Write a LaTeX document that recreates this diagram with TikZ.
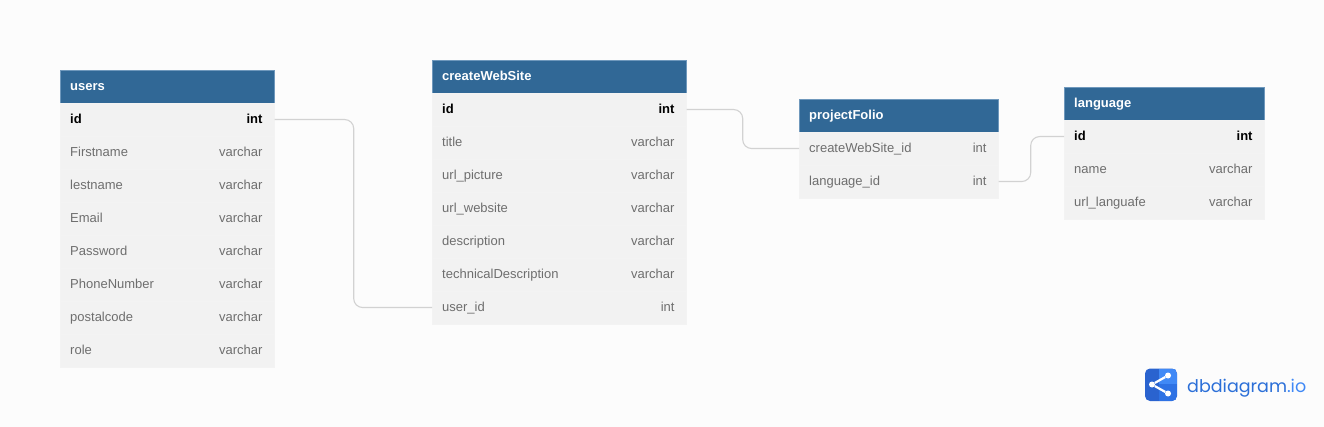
\documentclass[tikz,border=0pt]{standalone}
\usepackage{xcolor}
\usepackage{fontspec}
\setmainfont{Liberation Sans}
\newfontfamily\logofont{Poppins}
\definecolor{pagebg}{HTML}{FCFCFC}
\definecolor{headblue}{HTML}{316896}
\definecolor{headedge}{HTML}{6F98BC}
\definecolor{rowgrey}{HTML}{F2F2F2}
\definecolor{rowedge}{HTML}{F3F3F3}
\definecolor{fieldgrey}{HTML}{6E6E6E}
\definecolor{linkgrey}{HTML}{D2D2D2}
\definecolor{logodark}{HTML}{2A63CF}
\definecolor{logomid}{HTML}{2E72E4}
\definecolor{logolight}{HTML}{4089F6}
\definecolor{logotext}{HTML}{2B6FD8}
\tikzset{
	tablehead/.style={draw=headedge, line width=0.5pt, fill=headblue, anchor=north west, minimum height=33, inner sep=0},
	headtext/.style={anchor=west, text=white, font=\fontsize{13}{15}\selectfont\bfseries, text height=9.5pt, text depth=3pt, inner sep=0},
	rowbox/.style={fill=rowgrey, draw=rowedge, line width=0.5pt, anchor=north west, minimum height=32.6, inner sep=0},
	keytext/.style={text=black, font=\fontsize{13}{15}\selectfont\bfseries, text height=9.5pt, text depth=3pt, inner sep=0},
	fieldtext/.style={text=fieldgrey, font=\fontsize{13}{15}\selectfont, text height=9.5pt, text depth=3pt, inner sep=0},
	link/.style={draw=linkgrey, line width=1.1pt, rounded corners=9pt},
	logodot/.style={circle, fill=white, minimum size=6, inner sep=0},
	logobar/.style={draw=white, line width=2.2pt},
}
% #1 name, #2 x, #3 y, #4 width, #5 title, #6 rows
\newcommand{\dbtable}[6]{
	\node[tablehead, minimum width=#4-0.8] (#1) at (#2,#3) {};
	\node[headtext] (#1-title) at ([xshift=10,yshift=-0.7]#1.west) {#5};
	\foreach \fieldname/\fieldtype/\fieldstyle [count=\i] in {#6} {
		\node[rowbox, minimum width=#4-0.8] (#1-\i) at (#2,{#3+33*\i}) {};
		\node[\fieldstyle, anchor=west] (#1-\i-name) at ([xshift=10,yshift=-1]#1-\i.west) {\fieldname};
		\node[\fieldstyle, anchor=east] (#1-\i-type) at ([xshift=-12,yshift=-1]#1-\i.east) {\fieldtype};
	}
}
\begin{document}
\begin{tikzpicture}[x=1pt, y=-1pt]
	\useasboundingbox[fill=pagebg] (0,0) rectangle (1324,427);

	\dbtable{users}{60}{70}{215}{users}{
		id/int/keytext, Firstname/varchar/fieldtext, lestname/varchar/fieldtext,
		Email/varchar/fieldtext, Password/varchar/fieldtext, PhoneNumber/varchar/fieldtext,
		postalcode/varchar/fieldtext, role/varchar/fieldtext}
	\dbtable{site}{432}{60}{255}{createWebSite}{
		id/int/keytext, title/varchar/fieldtext, url\_picture/varchar/fieldtext,
		url\_website/varchar/fieldtext, description/varchar/fieldtext,
		technicalDescription/varchar/fieldtext, user\_id/int/fieldtext}
	\dbtable{folio}{799}{99}{200}{projectFolio}{
		createWebSite\_id/int/fieldtext, language\_id/int/fieldtext}
	\dbtable{lang}{1064}{87}{201}{language}{
		id/int/keytext, name/varchar/fieldtext, url\_languafe/varchar/fieldtext}

	% connectors
	\draw[link] (users-1.east) -- ++(79,0) |- (site-7.west);
	\draw[link] (site-1.east) -- ++(56,0) |- (folio-1.west);
	\draw[link] (folio-2.east) -- ++(32,0) |- (lang-1.west);

	% logo
	\fill[logodark, rounded corners=5pt] (1145,368.5) rectangle (1177,401);
	\begin{scope}
		\clip[rounded corners=5pt] (1145,368.5) rectangle (1177,401);
		\fill[logomid] (1159,368.5) rectangle (1177,401);
		\fill[logolight] (1159,368.5) rectangle (1177,384);
	\end{scope}
	\node[logodot] (logoleft) at (1152,384.5) {};
	\node[logodot] (logotop) at (1168,375.5) {};
	\node[logodot] (logobottom) at (1168,393.5) {};
	\draw[logobar] (logotop) -- (logoleft) -- (logobottom);
	\node[anchor=base west, inner sep=0, text=logotext, font=\logofont\fontsize{17.5}{24}\selectfont] (logoname) at (1187,392) {dbdiagram\textcolor{logolight}{.io}};
\end{tikzpicture}
\end{document}
